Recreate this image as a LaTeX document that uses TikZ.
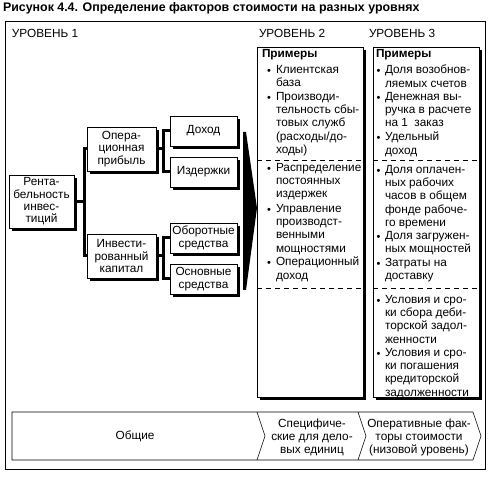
\documentclass[tikz,border=0pt]{standalone}
\usepackage{fontspec}
\setmainfont{Liberation Sans}
\usetikzlibrary{shadows}
\begin{document}
\begin{tikzpicture}[x=1pt,y=-1pt,
  every node/.style={inner sep=0pt, outer sep=0pt, font=\fontsize{11.8}{13.3}\selectfont},
  box/.style={draw, fill=white, line width=0.9pt, align=center,
     drop shadow={shadow xshift=3pt, shadow yshift=-3pt, opacity=1, fill=black}},
  conn/.style={line width=3pt},
  txt/.style={anchor=north west, align=left,
     execute at begin node={\lineskiplimit=-20pt\rule{0pt}{11pt}}},
  bul/.style={font=\fontsize{11}{11}\selectfont},
  head/.style={anchor=west, font=\fontsize{11.8}{13}\selectfont\bfseries},
  lvl/.style={anchor=west},
  thinline/.style={line width=0.6pt},
  sep/.style={line width=0.7pt, dash pattern=on 5pt off 4pt},
]
\useasboundingbox (0,0) rectangle (490,478);

% title and frame
\node[anchor=west, font=\fontsize{12.4}{13}\selectfont\bfseries] (title) at (3,8)
  {Рисунок 4.4. Определение факторов стоимости на разных уровнях};
\draw[line width=0.9pt] (5,21) rectangle (485,469);

\node[lvl] (lv1) at (12,33) {УРОВЕНЬ 1};
\node[lvl] (lv2) at (259,33) {УРОВЕНЬ 2};
\node[lvl] (lv3) at (369,33) {УРОВЕНЬ 3};

% level 2 and 3 boxes
\node[box, minimum width=106pt, minimum height=350pt, anchor=north west] (L2) at (257,47) {};
\node[box, minimum width=106pt, minimum height=350pt, anchor=north west] (L3) at (373,47) {};
\draw[sep] (257,160) -- (363,160);
\draw[sep] (373,160) -- (479,160);
\draw[sep] (257,288) -- (363,288);
\draw[sep] (373,288) -- (479,288);

\node[head] (h2) at (262,55) {Примеры};
\node[head] (h3) at (376,55) {Примеры};

% level 2 items
\foreach \y/\t [count=\i] in {
  72/{Клиентская\\база},
  99/{Производи-\\тельность сбы-\\товых служб\\(расходы/до-\\ходы)},
  170/{Распределение\\постоянных\\издержек},
  211/{Управление\\производст-\\венными\\мощностями},
  264/{Операционный\\доход}}{
  \node[bul] (b2\i) at (269,\y) {•};
  \node[txt] (t2\i) at (276,\y-6.9) {\t};
}
% level 3 items
\foreach \y/\t [count=\i] in {
  72/{Доля возобнов-\\ляемых счетов},
  99/{Денежная вы-\\ручка в расчете\\на 1 \ заказ},
  139/{Удельный\\доход},
  172/{Доля оплачен-\\ных рабочих\\часов в общем\\фонде рабоче-\\го времени},
  238/{Доля загружен-\\ных мощностей},
  265/{Затраты на\\доставку},
  302/{Условия и сро-\\ки сбора деби-\\торской задол-\\женности},
  355/{Условия и сро-\\ки погашения\\кредиторской\\задолженности}}{
  \node[bul] (b3\i) at (378.5,\y) {•};
  \node[txt] (t3\i) at (385,\y-6.9) {\t};
}

% level 1 tree
\node[box, minimum width=65pt, minimum height=53pt, font=\fontsize{11.8}{12.4}\selectfont] (R) at (41.5,201.5) {Рента-\\бельность\\инвес-\\тиций};
\node[box, minimum width=69pt, minimum height=44pt, font=\fontsize{11.8}{12.8}\selectfont] (OP) at (121.5,149) {Опера-\\ционная\\прибыль};
\node[box, minimum width=69pt, minimum height=44pt, font=\fontsize{11.8}{12.8}\selectfont] (IC) at (121.5,256) {Инвести-\\рованный\\капитал};
\node[box, minimum width=67pt, minimum height=30pt] (D) at (203.5,131) {Доход};
\node[box, minimum width=67pt, minimum height=30pt] (Z) at (203.5,172) {Издержки};
\node[box, minimum width=67pt, minimum height=30pt, font=\fontsize{11.8}{12.6}\selectfont] (OB) at (203.5,238) {Оборотные\\средства};
\node[box, minimum width=67pt, minimum height=30pt, font=\fontsize{11.8}{12.6}\selectfont] (OS) at (203.5,279) {Основные\\средства};

\draw[conn] (R.east) -- ++(10pt,0) coordinate (bus1);
\draw[conn] (OP.west) -| (bus1) |- (IC.west);
\draw[conn] (OP.east) -- ++(7pt,0) coordinate (bus2);
\draw[conn] (D.west) -| (bus2) |- (Z.west);
\draw[conn] (IC.east) -- ++(7pt,0) coordinate (bus3);
\draw[conn] (OB.west) -| (bus3) |- (OS.west);

% big arrow
\fill (243,132) -- (246,132) -- (257,208) -- (246,290) -- (243,290) -- cycle;

% chevron row
\draw[thinline] (12,412) -- (473,412) -- (481,436) -- (473,460) -- (12,460) -- cycle;
\draw[thinline] (257,412) -- (265,436) -- (257,460);
\draw[thinline] (358,412) -- (366,436) -- (358,460);
\node (c1) at (135,436) {Общие};
\node[align=center, font=\fontsize{11.8}{13}\selectfont] (c2) at (312,437) {Специфиче-\\ские для дело-\\вых единиц};
\node[align=center, font=\fontsize{11.8}{13}\selectfont] (c3) at (419,437) {Оперативные фак-\\торы стоимости\\(низовой уровень)};
\end{tikzpicture}
\end{document}
